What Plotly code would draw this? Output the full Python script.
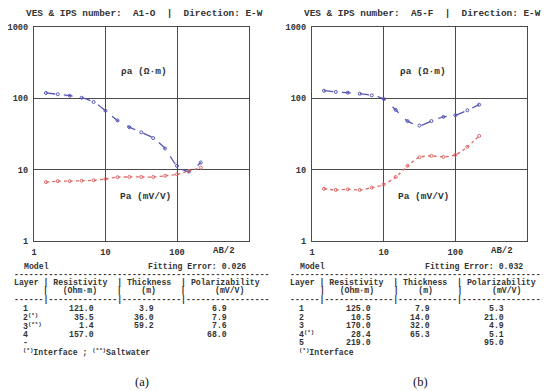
import plotly.graph_objects as go

# ---------------- data ----------------
ab2 = [1.47, 2.15, 3.16, 4.64, 6.81, 10, 14.7, 21.5, 31.6, 46.4, 68.1, 100, 147, 215]

rho_a = [119, 114, 109, 102, 89, 67, 49, 39.5, 33.4, 27.7, 19.8, 11.3, 9.4, 12.6]
pa_a = [6.7, 6.9, 6.9, 7.0, 7.1, 7.4, 7.85, 7.9, 7.9, 7.9, 8.2, 8.6, 9.6, 10.7]

rho_b = [128, 123, 120, 116, 110, 98, 69, 48, 41.5, 48, 55, 58, 68, 81.5]
pa_b = [5.4, 5.2, 5.3, 5.2, 5.6, 6.2, 7.9, 11.3, 14.9, 15.6, 15.1, 16.1, 20.9, 29.7]

y_tick_vals = [1, 10, 100, 1000]
y_tick_text = ["1", "10", "100", "1000"]
x_tick_vals = [1, 10, 100]
x_tick_text = ["1", "10", "100"]

titles = ["VES & IPS number:  A1-O  |  Direction: E-W",
          "VES & IPS number:  A5-F  |  Direction: E-W"]
fit_err = ["0.026", "0.032"]
panel_tags = ["(a)", "(b)"]

layers_a = ["1", "2<sup>(*)</sup>", "3<sup>(**)</sup>", "4", "-"]
res_a = ["121.0", "35.5", "1.4", "157.0", ""]
thk_a = ["3.9", "36.0", "59.2", "", ""]
pol_a = ["6.9", "7.9", "7.6", "68.0", ""]
note_a = "<sup>(*)</sup>Interface ; <sup>(**)</sup>Saltwater"

layers_b = ["1", "2", "3", "4<sup>(*)</sup>", "5"]
res_b = ["125.0", "10.5", "170.0", "28.4", "219.0"]
thk_b = ["7.9", "14.0", "32.0", "65.3", ""]
pol_b = ["5.3", "21.0", "4.9", "5.1", "95.0"]
note_b = "<sup>(*)</sup>Interface"

# ---------------- styling ----------------
# the page body keeps its default 8 px margin, so the figure is drawn 8 px
# smaller and every reference pixel position is shifted by that margin
OFF = 8
W, H = 550 - OFF, 391 - OFF
MONO = "Liberation Mono"
TXT = "#333333"
GRID = "#4a4a4a"
BLUE = "#5555b5"
RED = "#e06a6a"


def px(x):
    return (x - OFF) / W


def py(y):
    return 1 - (y - OFF) / H


def nb(s):
    return s.replace(" ", "\u00a0")


fig = go.Figure()

panels = [
    dict(xa="x", ya="y", rho=rho_a, pa=pa_a, x0=34, x1=248.5, tx=2.0,
         layers=layers_a, res=res_a, thk=thk_a, pol=pol_a, note=note_a),
    dict(xa="x2", ya="y2", rho=rho_b, pa=pa_b, x0=312, x1=527, tx=278.5,
         layers=layers_b, res=res_b, thk=thk_b, pol=pol_b, note=note_b),
]

for p in panels:
    fig.add_trace(go.Scatter(
        x=ab2, y=p["rho"], xaxis=p["xa"], yaxis=p["ya"], mode="lines+markers",
        line=dict(color=BLUE, width=1.3, dash="dash", shape="spline", smoothing=0.8),
        marker=dict(symbol="circle-open", size=3, color=BLUE, line=dict(width=1)),
        showlegend=False))
    fig.add_trace(go.Scatter(
        x=ab2, y=p["pa"], xaxis=p["xa"], yaxis=p["ya"], mode="lines+markers",
        line=dict(color=RED, width=1.3, dash="dot", shape="spline", smoothing=0.8),
        marker=dict(symbol="circle-open", size=3, color=RED, line=dict(width=1)),
        showlegend=False))

ydom = [py(241), py(27)]
axis_common = dict(type="log", range=[0, 3], showgrid=True, gridcolor=GRID, gridwidth=1.2,
                   showline=True, linecolor=GRID, linewidth=1.2, mirror=True,
                   zeroline=False, ticks="", automargin=False,
                   tickfont=dict(family=MONO, size=8.6, color=TXT, weight="bold"))

fig.update_layout(
    width=W, height=H, margin=dict(l=0, r=0, t=0, b=0, autoexpand=False),
    paper_bgcolor="white", plot_bgcolor="white",
    xaxis=dict(domain=[px(34), px(248.5)], anchor="y", tickvals=x_tick_vals,
               ticktext=x_tick_text, ticklabelstandoff=3, **axis_common),
    yaxis=dict(domain=ydom, anchor="x", tickvals=y_tick_vals, ticktext=y_tick_text,
               ticklabelstandoff=3, **axis_common),
    xaxis2=dict(domain=[px(312), px(527)], anchor="y2", tickvals=x_tick_vals,
                ticktext=x_tick_text, ticklabelstandoff=3, **axis_common),
    yaxis2=dict(domain=ydom, anchor="x2", tickvals=y_tick_vals, ticktext=y_tick_text,
                ticklabelstandoff=3, **axis_common),
)

ann = []


def add(text, x, y, size=8.2, anchor="left", bold=True, family=MONO, color=TXT):
    if not text:
        return
    ann.append(dict(text=text, x=px(x), y=py(y), xref="paper", yref="paper",
                    xanchor=anchor, yanchor="middle", showarrow=False,
                    font=dict(family=family, size=size, color=color,
                              weight="bold" if bold else "normal")))


CW = 0.6 * 8.2  # monospace char width

for i, p in enumerate(panels):
    cx = (p["x0"] + p["x1"]) / 2
    add(nb(titles[i]), cx + 3, 13.5, size=9.4, anchor="center")
    add(nb("ρa (Ω·m)"), cx + 3, 72, size=9.5, anchor="center")
    add(nb("Pa (mV/V)"), cx + 4, 196.5, size=9.5, anchor="center")
    add("AB/2", p["x0"] + 190, 250.5, size=9, anchor="center")

    tx = p["tx"]
    add("Model", tx + 4 * CW, 266.3)
    add(nb("Fitting Error: " + fit_err[i]), tx + 246, 266.3, anchor="right")
    add("-" * 52, tx + 2 * CW, 274)
    add(nb("Layer | Resistivity  | Thickness  | Polarizability"), tx + 2 * CW, 282.3)
    add(nb("|   (Ohm·m)    |    (m)     |      (mV/V)"), tx + 8 * CW, 290.7)
    add("-" * 6 + "|" + "-" * 14 + "|" + "-" * 12 + "|" + "-" * 17, tx + 2 * CW, 299.2)

    row_y = [308.7, 317.2, 325.7, 334.2, 342.7]
    for r in range(len(p["layers"])):
        add(p["layers"][r], tx + 4 * CW - 1, row_y[r])
        add(p["res"][r], tx + 19 * CW + 1, row_y[r], anchor="right")
        add(p["thk"][r], tx + 31 * CW + 1, row_y[r], anchor="right")
        add(p["pol"][r], tx + 46 * CW + 1, row_y[r], anchor="right")
    add(p["note"], tx + 4 * CW - 1, 352)

    add(panel_tags[i], cx + 1, 381.5, size=12.5, anchor="center", bold=False,
        family="Liberation Serif", color="#111111")

fig.update_layout(annotations=ann)

fig.write_html("out.html")
